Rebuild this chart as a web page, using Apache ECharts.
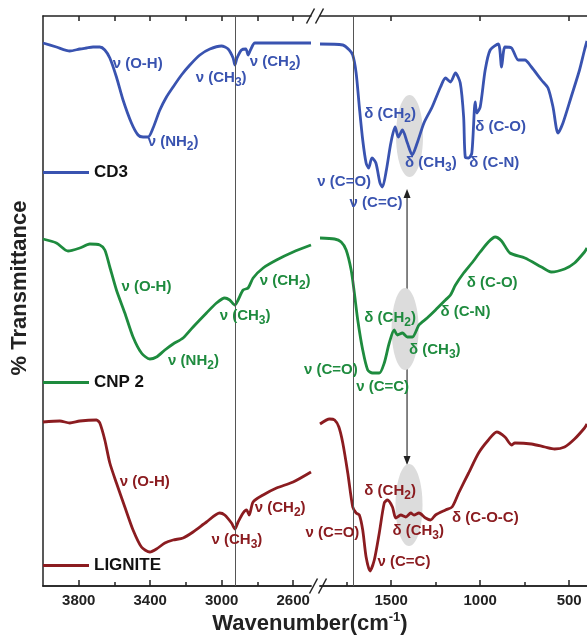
<!DOCTYPE html>
<html><head><meta charset="utf-8">
<script src="https://cdn.jsdelivr.net/npm/echarts@6/dist/echarts.min.js"></script>
<style>html,body{margin:0;padding:0;background:#fff}#c{width:587px;height:637px}</style>
</head><body><div id="c"></div>
<script>
// ---------- DATA (wavenumber in cm-1, transmittance in arbitrary offset units) ----------
const cd3LeftWn = [4000,3925,3850,3794,3757,3720,3682,3654,3626,3589,3552,3505,3468,3440,3412,3384,3346,3309,3272,3225,3178,3122,3066,3001,2964,2936,2926,2914,2889,2865,2852,2839,2814,2749,2500];
const cd3LeftT  = [543,539,535,537,538,539,539,536,528,509,486,463,451,449,449,458,476,489,499,511,521,531,537,540,537,528,521,528,536,537,531,536,543,543,543];
const cd3RightWn = [1900,1772,1735,1716,1697,1679,1660,1641,1627,1608,1586,1563,1549,1527,1502,1478,1460,1437,1409,1382,1354,1316,1270,1223,1195,1167,1139,1112,1093,1084,1065,1047,1028,1019,1000,972,944,898,880,861,824,786,749,712,656,619,591,563,535,489,442,414,400];
const cd3RightT  = [542,541,536,531,513,479,446,423,418,428,423,403,399,416,443,459,449,456,443,431,443,463,479,499,508,504,513,503,469,429,428,433,484,473,479,516,536,542,519,539,538,526,526,519,506,498,479,453,463,489,516,536,545];

const cnpLeftWn = [4000,3925,3860,3794,3738,3682,3654,3626,3589,3542,3496,3449,3402,3365,3318,3272,3216,3160,3085,3029,2983,2955,2926,2908,2880,2852,2824,2768,2693,2600,2500];
const cnpLeftT  = [347,343,335,338,342,341,336,319,296,273,249,233,227,229,236,242,248,259,273,283,288,286,281,286,296,298,308,318,326,334,341];
const cnpRightWn = [1900,1818,1781,1753,1725,1707,1688,1660,1632,1605,1567,1539,1511,1483,1465,1437,1409,1381,1344,1298,1251,1195,1167,1139,1093,1047,1000,954,916,880,833,749,656,601,526,470,414,400];
const cnpRightT  = [348,347,344,336,316,293,266,236,216,213,213,223,243,256,251,253,249,249,261,268,276,286,291,301,313,323,334,344,349,345,333,328,319,314,317,323,334,338];

const ligLeftWn = [4000,3906,3850,3794,3701,3682,3654,3626,3589,3542,3496,3449,3402,3365,3318,3272,3216,3160,3085,3011,2983,2945,2926,2908,2880,2861,2846,2824,2768,2693,2600,2500];
const ligLeftT  = [164,165,163,165,166,163,146,123,103,79,56,39,34,37,43,46,48,54,64,73,71,63,57,64,73,76,71,84,91,98,104,114];
const ligRightWn = [1900,1846,1818,1794,1772,1744,1716,1697,1679,1660,1641,1619,1595,1567,1539,1521,1493,1474,1446,1418,1390,1372,1344,1307,1279,1251,1195,1158,1121,1065,1009,954,907,861,824,805,712,637,582,526,470,414,400];
const ligRightT  = [162,167,166,159,143,113,79,73,71,56,29,15,26,53,83,86,79,68,71,69,73,71,73,68,66,71,76,79,93,113,133,146,154,149,141,143,142,139,137,139,147,158,162];

const sampleNames = ['CD3', 'CNP 2', 'LIGNITE'];
const leftMajorTicks = [2600, 3000, 3400, 3800];
const leftMinorTicks = [2800, 3200, 3600];
const rightMajorTicks = [500, 1000, 1500];
const rightMinorTicks = [750, 1250, 1750];
const markerLinesLeft = [2926];
const markerLinesRight = [1711];

// band annotations: [text, wavenumber, transmittance, panel, align]
const labelsCD3 = [
  ['ν (O-H)', 3610, 522, 'L', 'left'], ['ν (NH_2)', 3414, 444, 'L', 'left'],
  ['ν (CH_3)', 3145, 508, 'L', 'left'], ['ν (CH_2)', 2843, 524, 'L', 'left'],
  ['δ (CH_2)', 1651, 472, 'R', 'left'], ['δ (CH_3)', 1422, 423, 'R', 'left'],
  ['δ (C-O)', 1028, 459, 'R', 'left'], ['δ (C-N)', 1061, 423, 'R', 'left'],
  ['ν (C=O)', 1613, 404, 'R', 'right'], ['ν (C=C)', 1734, 383, 'R', 'left']
];
const labelsCNP = [
  ['ν (O-H)', 3561, 299, 'L', 'left'], ['ν (NH_2)', 3300, 225, 'L', 'left'],
  ['ν (CH_3)', 3011, 270, 'L', 'left'], ['ν (CH_2)', 2787, 305, 'L', 'left'],
  ['ν (C=O)', 1688, 216, 'R', 'right'], ['ν (C=C)', 1697, 199, 'R', 'left'],
  ['δ (CH_2)', 1651, 268, 'R', 'left'], ['δ (CH_3)', 1400, 236, 'R', 'left'],
  ['δ (C-N)', 1223, 274, 'R', 'left'], ['δ (C-O)', 1075, 303, 'R', 'left']
];
const labelsLIG = [
  ['ν (O-H)', 3570, 104, 'L', 'left'], ['ν (CH_3)', 3057, 46, 'L', 'left'],
  ['ν (CH_2)', 2815, 78, 'L', 'left'], ['δ (CH_2)', 1651, 95, 'R', 'left'],
  ['δ (CH_3)', 1493, 55, 'R', 'left'], ['ν (C=O)', 1679, 53, 'R', 'right'],
  ['ν (C=C)', 1577, 24, 'R', 'left'], ['δ (C-O-C)', 1158, 68, 'R', 'left']
];
// highlighted δ(CH) regions: [wavenumber, transmittance]
const ellipseCenters = [[1397, 450], [1422, 257], [1400, 81]];
const arrowFromTo = [[1411, 397], [1411, 121]];

// ---------- STYLE ----------
const FONT = '"Liberation Sans", Arial, sans-serif';
const COLORS = ['#3953b0', '#1e8b3e', '#8b1c20'];
const AX = {color: '#222', width: 1.5};
const G = {top: 16, h: 570, lL: 43, wL: 268, lR: 320, wR: 269};

const zip = (a, b) => a.map((v, i) => [v, b[i]]);

function xax(grid, pos, min, max, ticks, len, labels) {
  return {
    gridIndex: grid, type: 'value', position: pos, min: min, max: max, inverse: true,
    axisLine: {show: true, onZero: false, lineStyle: AX},
    axisTick: {show: true, inside: true, length: len, customValues: ticks, lineStyle: AX},
    axisLabel: labels ? {show: true, customValues: ticks, fontSize: 15, fontWeight: 'bold',
      color: '#222', fontFamily: FONT, margin: 7, formatter: v => String(v)} : {show: false},
    splitLine: {show: false}
  };
}

function lineSeries(name, color, xi, yi, data, marks) {
  const s = {
    name: name, type: 'line', xAxisIndex: xi, yAxisIndex: yi, data: data,
    showSymbol: false, symbol: 'none', smooth: 0.25, z: 2,
    lineStyle: {color: color, width: 2.8}, itemStyle: {color: color}
  };
  if (marks) {
    s.markLine = {silent: true, symbol: 'none', label: {show: false}, animation: false,
      lineStyle: {color: '#555', width: 1, type: 'solid'},
      data: marks.map(v => ({xAxis: v}))};
  }
  return s;
}

const legendTops = [164, 374, 557];
const option = {
  animation: false,
  backgroundColor: '#fff',
  grid: [
    {left: G.lL, top: G.top, width: G.wL, height: G.h},
    {left: G.lR, top: G.top, width: G.wR, height: G.h}
  ],
  xAxis: [
    xax(0, 'bottom', 2500, 4000, leftMajorTicks, 6, true),
    xax(0, 'bottom', 2500, 4000, leftMinorTicks, 4, false),
    xax(0, 'top', 2500, 4000, leftMajorTicks.concat(leftMinorTicks), 5, false),
    xax(1, 'bottom', 400, 1900, rightMajorTicks, 6, true),
    xax(1, 'bottom', 400, 1900, rightMinorTicks, 4, false),
    xax(1, 'top', 400, 1900, rightMajorTicks, 5, false)
  ],
  yAxis: [
    {gridIndex: 0, type: 'value', min: 0, max: 570, axisLine: {show: true, onZero: false, lineStyle: AX},
      axisTick: {show: false}, axisLabel: {show: false}, splitLine: {show: false}},
    {gridIndex: 1, type: 'value', min: 0, max: 570, axisLine: {show: false},
      axisTick: {show: false}, axisLabel: {show: false}, splitLine: {show: false}}
  ],
  legend: sampleNames.map((n, i) => ({
    data: [n], left: G.lL, top: legendTops[i], padding: 0, itemGap: 0,
    icon: 'rect', itemWidth: 46, itemHeight: 3, selectedMode: false,
    textStyle: {fontSize: 17, fontWeight: 'bold', color: '#111', fontFamily: FONT}
  })),
  series: [
    lineSeries('CD3', COLORS[0], 0, 0, zip(cd3LeftWn, cd3LeftT), markerLinesLeft),
    lineSeries('CD3', COLORS[0], 3, 1, zip(cd3RightWn, cd3RightT), markerLinesRight),
    lineSeries('CNP 2', COLORS[1], 0, 0, zip(cnpLeftWn, cnpLeftT)),
    lineSeries('CNP 2', COLORS[1], 3, 1, zip(cnpRightWn, cnpRightT)),
    lineSeries('LIGNITE', COLORS[2], 0, 0, zip(ligLeftWn, ligLeftT)),
    lineSeries('LIGNITE', COLORS[2], 3, 1, zip(ligRightWn, ligRightT))
  ]
};

const chart = echarts.init(document.getElementById('c'), null, {renderer: 'canvas'});
chart.setOption(option);

function px(panel, wn, v) {
  return chart.convertToPixel(panel === 'L' ? {xAxisIndex: 0, yAxisIndex: 0} : {xAxisIndex: 3, yAxisIndex: 1}, [wn, v]);
}
function richLabel(s) {
  return s.split(/(_\d)/).filter(p => p).map(p => p[0] === '_' ? '{s|' + p.slice(1) + '}' : '{n|' + p + '}').join('');
}

const gfx = [];
// ellipses
ellipseCenters.forEach(c => {
  const p = px('R', c[0], c[1]);
  gfx.push({type: 'ellipse', z: 1, silent: true, shape: {cx: p[0], cy: p[1], rx: 13.5, ry: 41},
    style: {fill: '#dcdcdc'}});
});
// double arrow
(function () {
  const a = px('R', arrowFromTo[0][0], arrowFromTo[0][1]);
  const b = px('R', arrowFromTo[1][0], arrowFromTo[1][1]);
  gfx.push({type: 'line', z: 0.5, silent: true, shape: {x1: a[0], y1: a[1] + 4, x2: b[0], y2: b[1] - 4},
    style: {stroke: '#333', lineWidth: 1.2}});
  gfx.push({type: 'polygon', z: 0.5, silent: true, shape: {points: [[a[0], a[1]], [a[0] - 3.5, a[1] + 9], [a[0] + 3.5, a[1] + 9]]}, style: {fill: '#222'}});
  gfx.push({type: 'polygon', z: 0.5, silent: true, shape: {points: [[b[0], b[1]], [b[0] - 3.5, b[1] - 9], [b[0] + 3.5, b[1] - 9]]}, style: {fill: '#222'}});
})();
// annotations
[labelsCD3, labelsCNP, labelsLIG].forEach((list, si) => {
  const col = COLORS[si];
  list.forEach(l => {
    const p = px(l[3], l[1], l[2]);
    gfx.push({type: 'text', z: 10, silent: true, x: p[0], y: p[1], style: {
      text: richLabel(l[0]), align: l[4], verticalAlign: 'middle', textAlign: l[4], textVerticalAlign: 'middle',
      fill: col,
      rich: {
        n: {fontSize: 15, fontWeight: 'bold', fontFamily: FONT, fill: col, lineHeight: 18},
        s: {fontSize: 12, fontWeight: 'bold', fontFamily: FONT, fill: col, lineHeight: 12, padding: [9, 0, 0, 0]}
      }
    }});
  });
});
// axis break marks
const bx = (G.lL + G.wL + G.lR) / 2;
[[G.top, -1], [G.top + G.h, 2]].forEach(([y, dx]) => {
  [-8, 1].forEach(o => {
    gfx.push({type: 'line', z: 10, silent: true,
      shape: {x1: bx + o + dx, y1: y + 7.5, x2: bx + o + dx + 8, y2: y - 7.5},
      style: {stroke: '#222', lineWidth: 1.5}});
  });
});
// axis titles
gfx.push({type: 'text', z: 10, silent: true, x: 20, y: 288, rotation: Math.PI / 2, style: {
  text: '% Transmittance', fontSize: 22, fontWeight: 'bold', fontFamily: FONT, fill: '#222',
  align: 'center', verticalAlign: 'middle', textAlign: 'center', textVerticalAlign: 'middle'}});
gfx.push({type: 'text', z: 10, silent: true, x: 310, y: 624, style: {
  text: '{t|Wavenumber(cm}{u|-1}{t|)}', align: 'center', verticalAlign: 'middle',
  textAlign: 'center', textVerticalAlign: 'middle', fill: '#222',
  rich: {
    t: {fontSize: 22, fontWeight: 'bold', fontFamily: FONT, fill: '#222', lineHeight: 24},
    u: {fontSize: 13, fontWeight: 'bold', fontFamily: FONT, fill: '#222', lineHeight: 13, padding: [0, 0, 14, 0]}
  }}});

chart.setOption({graphic: gfx});
</script>
</body></html>
